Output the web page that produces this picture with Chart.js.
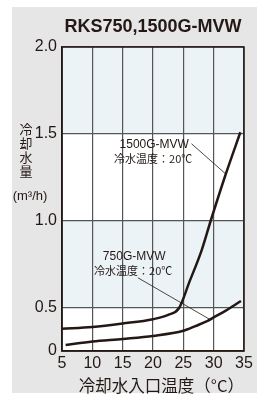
<!DOCTYPE html>
<html>
<head>
<meta charset="utf-8">
<script src="https://cdn.jsdelivr.net/npm/chart.js@4.4.0/dist/chart.umd.min.js"></script>
<style>
    html, body { margin: 0; padding: 0; background: #fff; }
</style>
</head>
<body>
<canvas id="flowChart" width="265" height="403"></canvas>
<script>
// Data
const tempTicks = [5, 10, 15, 20, 25, 30, 35];
const flowTicks = [0, 0.5, 1.0, 1.5, 2.0];
const shadedBands = [[0.5, 1.0], [1.5, 2.0]];

const temp1500 = [5, 10, 15, 20, 22.5, 24.3, 26, 28, 29.5, 32, 34.4];
const flow1500 = [0.26, 0.28, 0.32, 0.37, 0.42, 0.50, 0.65, 0.83, 1.0, 1.27, 1.51];

const temp750 = [5.6, 10, 15, 20, 25, 27, 29, 30, 32, 34.5];
const flow750 = [0.07, 0.11, 0.14, 0.175, 0.235, 0.29, 0.35, 0.39, 0.47, 0.54];

const INK = '#231815';
const LATIN = "'Liberation Sans', Arial, 'Noto Sans CJK JP', sans-serif";
const CJK = "'Noto Sans CJK JP', 'Liberation Sans', sans-serif";

// y axis on the sheet is squeezed below 0.5
const BREAK = 0.5;
const LOW_SHARE = 43 / 304;

class BrokenScale extends Chart.LinearScale {
    getPixelForValue(value) {
        if (value === null || value === undefined) return NaN;
        let f;
        if (value <= BREAK) {
            f = (value - this.min) / (BREAK - this.min) * LOW_SHARE;
        } else {
            f = LOW_SHARE + (value - BREAK) / (this.max - BREAK) * (1 - LOW_SHARE);
        }
        return this.getPixelForDecimal(f);
    }
    getValueForPixel(pixel) {
        const f = this.getDecimalForPixel(pixel);
        if (f <= LOW_SHARE) return this.min + f / LOW_SHARE * (BREAK - this.min);
        return BREAK + (f - LOW_SHARE) / (1 - LOW_SHARE) * (this.max - BREAK);
    }
}
BrokenScale.id = 'broken';
BrokenScale.defaults = Chart.LinearScale.defaults;
Chart.register(BrokenScale);

function toPoints(xs, ys) {
    return xs.map((x, i) => ({ x: x, y: ys[i] }));
}

// grey sheet + tinted bands behind the grid
const panelPlugin = {
    id: 'panel',
    beforeDraw(chart) {
        const { ctx, chartArea: a, scales: { y } } = chart;
        ctx.save();
        ctx.fillStyle = '#e6e6e6';
        ctx.fillRect(12, 7, 245, 386);
        ctx.fillStyle = '#ffffff';
        ctx.fillRect(a.left, a.top, a.right - a.left, a.bottom - a.top);
        ctx.fillStyle = '#ebf3f6';
        shadedBands.forEach(function(b) {
            const top = y.getPixelForValue(b[1]);
            const bottom = y.getPixelForValue(b[0]);
            ctx.fillRect(a.left, top, a.right - a.left, bottom - top);
        });
        ctx.restore();
    },
    afterDraw(chart) {
        const { ctx, chartArea: a, scales: { y } } = chart;
        ctx.save();
        ctx.strokeStyle = INK;
        ctx.lineWidth = 1.5;
        ctx.strokeRect(a.left, a.top, a.right - a.left, a.bottom - a.top);

        // vertical y title
        ctx.fillStyle = INK;
        ctx.textAlign = 'center';
        ctx.textBaseline = 'middle';
        ctx.font = '13px ' + CJK;
        const y15 = y.getPixelForValue(1.5);
        ['冷', '却', '水', '量'].forEach(function(ch, i) {
            ctx.fillText(ch, 26, y15 - 5 + i * 14);
        });
        ctx.font = '13px ' + LATIN;
        ctx.fillText('(m³/h)', 30, y15 + 62);
        ctx.restore();
    }
};

// model labels with leader lines
const labelPlugin = {
    id: 'labels',
    afterDatasetsDraw(chart) {
        const { ctx, scales: { x, y } } = chart;
        const notes = [
            { name: '1500G-MVW', at: [20.2, 1.44], from: [26.35, 1.444], to: [32.0, 1.27] },
            { name: '750G-MVW', at: [16.9, 0.797], from: [17.5, 0.674], to: [29.4, 0.366] }
        ];
        ctx.save();
        ctx.fillStyle = INK;
        ctx.strokeStyle = INK;
        ctx.lineWidth = 0.8;
        ctx.textAlign = 'center';
        ctx.textBaseline = 'middle';
        notes.forEach(function(n) {
            const cx = x.getPixelForValue(n.at[0]);
            const cy = y.getPixelForValue(n.at[1]);
            ctx.font = '12px ' + LATIN;
            ctx.fillText(n.name, cx, cy);
            ctx.font = '11px ' + CJK;
            ctx.fillText('冷水温度：20℃', cx - 1, cy + 14);
            ctx.beginPath();
            ctx.moveTo(x.getPixelForValue(n.from[0]), y.getPixelForValue(n.from[1]));
            ctx.lineTo(x.getPixelForValue(n.to[0]), y.getPixelForValue(n.to[1]));
            ctx.stroke();
        });
        ctx.restore();
    }
};

const curveStyle = {
    borderColor: INK,
    borderWidth: 2.5,
    pointRadius: 0,
    fill: false,
    cubicInterpolationMode: 'monotone'
};

new Chart(document.getElementById('flowChart'), {
    type: 'line',
    data: {
        datasets: [
            Object.assign({ label: '1500G-MVW', data: toPoints(temp1500, flow1500) }, curveStyle),
            Object.assign({ label: '750G-MVW', data: toPoints(temp750, flow750) }, curveStyle)
        ]
    },
    options: {
        responsive: false,
        animation: false,
        layout: { padding: { left: 0, right: 21, top: 0, bottom: 0 } },
        plugins: {
            legend: { display: false },
            tooltip: { enabled: false },
            title: {
                display: true,
                text: 'RKS750,1500G-MVW',
                color: INK,
                fullSize: false,
                font: { family: LATIN, size: 18, weight: 'bold' },
                padding: { top: 16, bottom: 9.4 }
            }
        },
        scales: {
            x: {
                type: 'linear',
                min: 5,
                max: 35,
                afterFit: function(scale) { scale.height = 52; },
                afterBuildTicks: function(scale) {
                    scale.ticks = tempTicks.map(v => ({ value: v }));
                },
                grid: { color: '#555', lineWidth: 1.2, drawTicks: false },
                border: { color: INK, width: 1.5 },
                ticks: {
                    autoSkip: false,
                    maxRotation: 0,
                    padding: 3,
                    color: INK,
                    font: { family: LATIN, size: 16 }
                },
                title: {
                    display: true,
                    text: '冷却水入口温度（°C）',
                    align: 'end',
                    color: INK,
                    font: { family: CJK, size: 16.5 },
                    padding: { top: 0, bottom: 7 }
                }
            },
            y: {
                type: 'broken',
                min: 0,
                max: 2,
                afterFit: function(scale) { scale.width = 62; },
                afterBuildTicks: function(scale) {
                    scale.ticks = flowTicks.map(v => ({ value: v }));
                },
                grid: { color: '#555', lineWidth: 1.2, drawTicks: false },
                border: { color: INK, width: 1.5 },
                ticks: {
                    padding: 5,
                    color: INK,
                    font: { family: LATIN, size: 16 },
                    callback: function(v) { return v === 0 ? '0' : v.toFixed(1); }
                }
            }
        }
    },
    plugins: [panelPlugin, labelPlugin]
});
</script>
</body>
</html>
